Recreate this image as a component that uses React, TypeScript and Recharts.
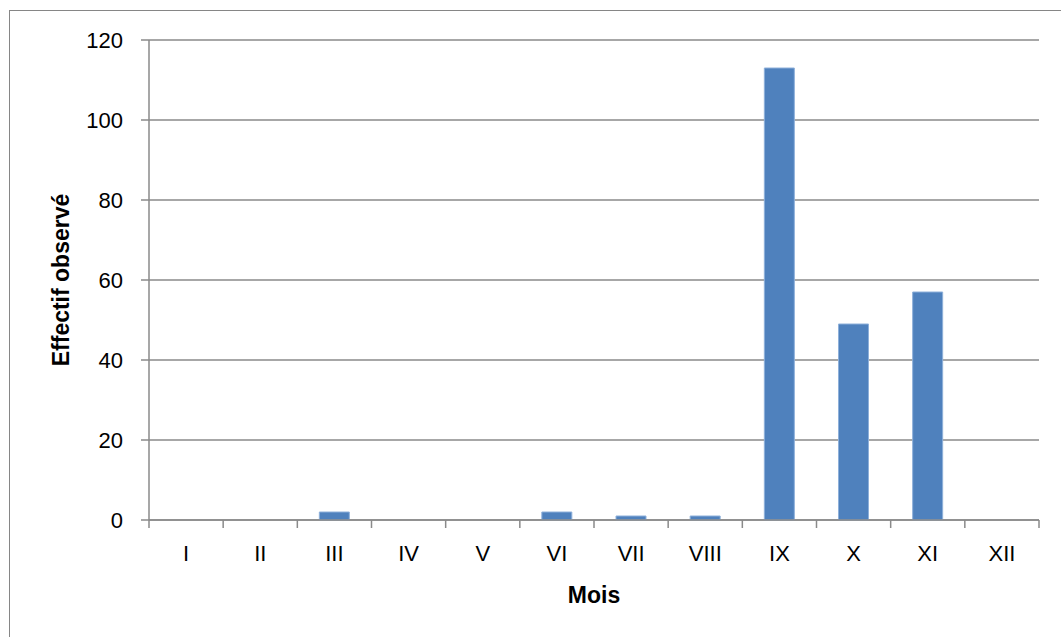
import { Bar, BarChart, CartesianGrid, XAxis, YAxis } from "recharts"

const MOIS = ["I", "II", "III", "IV", "V", "VI", "VII", "VIII", "IX", "X", "XI", "XII"]
const EFFECTIFS = [0, 0, 2, 0, 0, 2, 1, 1, 113, 49, 57, 0]
const Y_TICKS = [0, 20, 40, 60, 80, 100, 120]

const data = MOIS.map((mois, i) => ({ mois, effectif: EFFECTIFS[i] }))

const FONT = "'Liberation Sans', Arial, sans-serif"
const AXIS = "#8a8a8a"
const TICK_SIZE = 8
const TICK_MARGIN = 17

function MoisTick(props: any) {
  const { x, y, payload, index } = props
  const axisY = y - TICK_SIZE - TICK_MARGIN
  const half = payload.offset ?? 0
  return (
    <g>
      <line x1={x - half} x2={x - half} y1={axisY} y2={axisY + TICK_SIZE} stroke={AXIS} strokeWidth={1.5} />
      {index === MOIS.length - 1 && (
        <line x1={x + half} x2={x + half} y1={axisY} y2={axisY + TICK_SIZE} stroke={AXIS} strokeWidth={1.5} />
      )}
      <text x={x} y={y} dy="0.71em" textAnchor="middle" fill="#000" fontSize={22} fontFamily={FONT}>
        {payload.value}
      </text>
    </g>
  )
}

export default function App() {
  return (
    <div style={{ position: "fixed", left: 0, top: 0, width: 1061, height: 637, overflow: "hidden", background: "#fff" }}>
      <div
        style={{
          position: "absolute",
          left: 9,
          top: 10,
          right: -5,
          bottom: -5,
          borderTop: "1px solid #868686",
          borderLeft: "1px solid #868686",
        }}
      />
      <div style={{ position: "absolute", left: 0, top: 0 }}>
        <BarChart
          width={1061}
          height={637}
          data={data}
          margin={{ top: 40, right: 22, bottom: 37, left: 49 }}
          barSize={30}
        >
          <CartesianGrid vertical={false} stroke={AXIS} strokeWidth={1.5} />
          <XAxis
            dataKey="mois"
            height={80}
            stroke={AXIS}
            strokeWidth={1.5}
            tickLine={false}
            tickSize={TICK_SIZE}
            tickMargin={TICK_MARGIN}
            tick={<MoisTick />}
            interval={0}
            label={{
              content: ({ viewBox }: any) => (
                <text
                  x={viewBox.x + viewBox.width / 2}
                  y={viewBox.y + 83}
                  textAnchor="middle"
                  fontSize={23}
                  fontWeight="bold"
                  fontFamily={FONT}
                  fill="#000"
                >
                  Mois
                </text>
              ),
            }}
          />
          <YAxis
            width={100}
            domain={[0, 120]}
            ticks={Y_TICKS}
            interval={0}
            stroke={AXIS}
            strokeWidth={1.5}
            tickSize={TICK_SIZE}
            tickMargin={18}
            tick={{ fill: "#000", fontSize: 22, fontFamily: FONT }}
            label={{
              content: ({ viewBox }: any) => {
                const cx = viewBox.x + 12
                const cy = viewBox.y + viewBox.height / 2
                return (
                  <text
                    x={cx}
                    y={cy}
                    transform={`rotate(-90 ${cx} ${cy})`}
                    textAnchor="middle"
                    dominantBaseline="central"
                    fontSize={23}
                    fontWeight="bold"
                    fontFamily={FONT}
                    fill="#000"
                  >
                    Effectif observé
                  </text>
                )
              },
            }}
          />
          <Bar dataKey="effectif" fill="#4f81bd" stroke="#8eb0da" strokeWidth={1} isAnimationActive={false} />
        </BarChart>
      </div>
    </div>
  )
}
